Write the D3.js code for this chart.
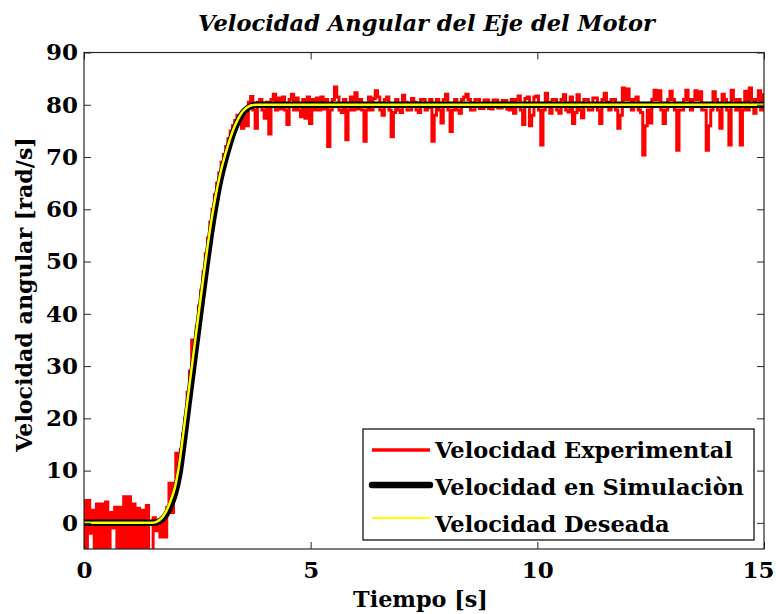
<!DOCTYPE html>
<html><head><meta charset="utf-8">
<script src="https://cdn.jsdelivr.net/npm/d3@7"></script>
<style>body{margin:0;background:#fff}svg{display:block}</style></head>
<body><svg id="c" width="776" height="614"></svg>
<script>
// Experimental velocity, sampled every 0.05 s from 0 to 15 s (one row = 0.5 s)
const expStep = 0.05;
const expValues = [
 4.3,-7,4.3,-2,2.4,-7,3.6,-6,3.6,-7,
 4,-6,2,-1,3,-6.5,3,-7,5,-6,
 5,-7,3.6,-6,2.8,-7,2.4,-6,3.3,-7,
 -6,1,-1.5,0.5,-2.7,1,-2.7,3,7.6,2,
 7.6,13.3,10,14,17,20,25,29,35,35,
 37.5,41.5,44.5,48,51.5,54.5,57.5,60,62.8,65,
 67,69,70.5,72,73.5,75,76,77,78,77,
 75.5,78,76,80.5,81.6,79,75.5,80.5,81,79,
 77.4,80.5,74.4,81,82,79,81.3,79.2,81.5,79,
 76.2,81,82,79,81.3,79,77.7,81,77.4,81.5,
 76.4,81,79,81.3,79,81.5,79.2,81,72,79,
 81,83.4,81.5,79,78.5,81,73.3,79,81.5,79,
 82.3,79.2,81,79,73,79,81.5,79,81.2,82.7,
 81.5,79,78,81,81.5,79,73.9,78.5,81,79,
 78.5,81.8,80.5,79,79,81.2,80.5,79,78.5,81,
 81,79,79.5,81,73,78,81,79,76.5,81,
 82,79,74.9,79,81,79,78.4,81,81.5,82,
 81,79,79,81,81,79.3,79.3,80.9,80.9,79.3,
 79.2,80.9,80.9,79.4,79.4,80.8,80.8,79.2,79,81,
 78.4,81,81.7,79,76.2,81.2,81.5,76,78,81.5,
 81.7,79,72.3,79,82.2,80.5,78.4,81,81,79,
 78.4,81,81.9,79,78.6,81.5,76.4,78.5,81.9,79,
 77.5,81,81,79,79,81.3,81.3,79,76.4,81,
 82.2,80.5,79,81,81,79,75.5,78,83.2,81,
 83,81,79,81,81.5,79,78.5,70.4,76,79,
 76.5,81,82.8,81,82.7,79,76.4,79,81,82.6,
 81,79,71.3,79,79,81,82.8,81,79,81,
 82.7,81,82.5,79,79,71.3,76,79,82.5,81,
 79,75.5,82,81,79,72.3,82.8,81,79,81,
 72.3,79,82.6,79,83.2,81,78.4,81,82.7,79,
 81.9
];
// Desired and simulated velocity
const refTime = [0,1.5,1.6,1.7,1.8,1.9,2.0,2.1,2.2,2.3,2.4,2.5,2.6,2.7,2.8,2.9,3.0,3.1,3.2,3.3,3.4,3.5,3.6,3.7,3.8,15];
const desiredValues = [0,0,0.2,0.8,2.0,4.0,6.6,11.2,17.8,24.6,31.4,38.1,44.8,51.3,57.3,62.4,66.6,70.0,72.9,75.4,77.3,78.7,79.5,79.9,80,80];
const simValues = [0,0,0.1,0.5,1.4,3.1,5.4,9.2,15.5,22.4,29.2,35.9,42.6,49.2,55.4,60.8,65.4,69.0,72.1,74.8,76.9,78.4,79.3,79.8,80,80];

const xTicks = [0,5,10,15];
const yTicks = [0,10,20,30,40,50,60,70,80,90];
const legendLabels = ["Velocidad Experimental","Velocidad en Simulaciòn","Velocidad Deseada"];
const seriesColors = ["#ff0000","#000000","#ffff00"];

const titleText = "Velocidad Angular del Eje del Motor";
const xLabel = "Tiempo [s]";
const yLabel = "Velocidad angular [rad/s]";

const FONT = "DejaVu Serif";
const L = 84, R = 764, T = 52.5, B = 549;
const svg = d3.select("#c");
const x = d3.scaleLinear().domain([0,15]).range([L,R]);
const y = d3.scaleLinear().domain([-5,90]).range([B,T]);

function fit(sel, target){
  const w = sel.node().getComputedTextLength();
  const fs = parseFloat(sel.attr("font-size"));
  const nf = fs*target/w;
  sel.attr("font-size", nf);
  return nf;
}

svg.append("defs").append("clipPath").attr("id","clip")
  .append("rect").attr("x",L).attr("y",T).attr("width",R-L).attr("height",B-T);

const plot = svg.append("g").attr("clip-path","url(#clip)");

const expData = expValues.map((v,i)=>({t:i*expStep, v}));
const desData = refTime.map((t,i)=>({t, v:desiredValues[i]}));
const simData = refTime.map((t,i)=>({t, v:simValues[i]}));

plot.append("path").datum(expData)
  .attr("d", d3.line().x(d=>x(d.t)).y(d=>y(d.v)).curve(d3.curveStep))
  .attr("fill","none").attr("stroke",seriesColors[0]).attr("stroke-width",3);
plot.append("path").datum(simData)
  .attr("d", d3.line().x(d=>x(d.t)).y(d=>y(d.v)).curve(d3.curveMonotoneX))
  .attr("fill","none").attr("stroke",seriesColors[1]).attr("stroke-width",6.5).attr("stroke-linejoin","round");
plot.append("path").datum(desData)
  .attr("d", d3.line().x(d=>x(d.t)).y(d=>y(d.v)).curve(d3.curveMonotoneX))
  .attr("fill","none").attr("stroke",seriesColors[2]).attr("stroke-width",2.5);

// Axes
const axColor = "#262626";
function styleAxis(g){
  g.select(".domain").remove();
  g.selectAll(".tick line").attr("stroke",axColor).attr("stroke-width",1);
  g.selectAll(".tick text").attr("fill","#000").attr("font-family",FONT).attr("font-weight","bold");
}
const yAx = svg.append("g").attr("transform",`translate(${L},0)`)
  .call(d3.axisLeft(y).tickValues(yTicks).tickSize(-7).tickPadding(6));
styleAxis(yAx);
yAx.selectAll(".tick text").attr("font-size",23);
const tickFS = fit(yAx.select(".tick:last-of-type text"), 32);
yAx.selectAll(".tick text").attr("font-size",tickFS);

const yAxR = svg.append("g").attr("transform",`translate(${R},0)`)
  .call(d3.axisRight(y).tickValues(yTicks).tickSize(-7).tickFormat(""));
styleAxis(yAxR);
const xAx = svg.append("g").attr("transform",`translate(0,${B})`)
  .call(d3.axisBottom(x).tickValues(xTicks).tickSize(-7).tickPadding(13));
styleAxis(xAx);
xAx.selectAll(".tick text").attr("font-size",tickFS);
xAx.selectAll(".tick").filter(d=>d===15).select("text").attr("dx",-6);
const xAxT = svg.append("g").attr("transform",`translate(0,${T})`)
  .call(d3.axisTop(x).tickValues(xTicks).tickSize(-7).tickFormat(""));
styleAxis(xAxT);

svg.append("rect").attr("x",L).attr("y",T).attr("width",R-L).attr("height",B-T)
  .attr("fill","none").attr("stroke",axColor).attr("stroke-width",1.2);

// Title
const title = svg.append("text").attr("x",426.5).attr("y",31).attr("text-anchor","middle")
  .attr("font-family",FONT).attr("font-weight","bold").attr("font-style","italic")
  .attr("font-size",22).text(titleText);
fit(title, 457);

// X label
const xl = svg.append("text").attr("x",420.5).attr("y",607).attr("text-anchor","middle")
  .attr("font-family",FONT).attr("font-weight","bold").attr("font-size",22).text(xLabel);
fit(xl, 135);

// Y label
const yl = svg.append("text").attr("transform","translate(32,294.5) rotate(-90)").attr("text-anchor","middle")
  .attr("font-family",FONT).attr("font-weight","bold").attr("font-size",20).text(yLabel);
fit(yl, 315);

// Legend
const lg = svg.append("g");
lg.append("rect").attr("x",363).attr("y",429).attr("width",391).attr("height",111)
  .attr("fill","#fff").attr("stroke","#000").attr("stroke-width",1.2);
const rowsY = [450,485,518];
const textY = [458,495,532];
const lw = [3.5,6.5,2];
let lfs = null;
legendLabels.forEach((lab,i)=>{
  lg.append("line").attr("x1",372).attr("x2",430).attr("y1",rowsY[i]).attr("y2",rowsY[i])
    .attr("stroke",seriesColors[i]).attr("stroke-width",lw[i]).attr("stroke-linecap", i===1?"round":"butt");
  const t = lg.append("text").attr("x",435).attr("y",textY[i])
    .attr("font-family",FONT).attr("font-weight","bold").attr("font-size",22).text(lab);
  if(i===0){ lfs = fit(t, 298); } else { t.attr("font-size", lfs); }
});
</script></body></html>
